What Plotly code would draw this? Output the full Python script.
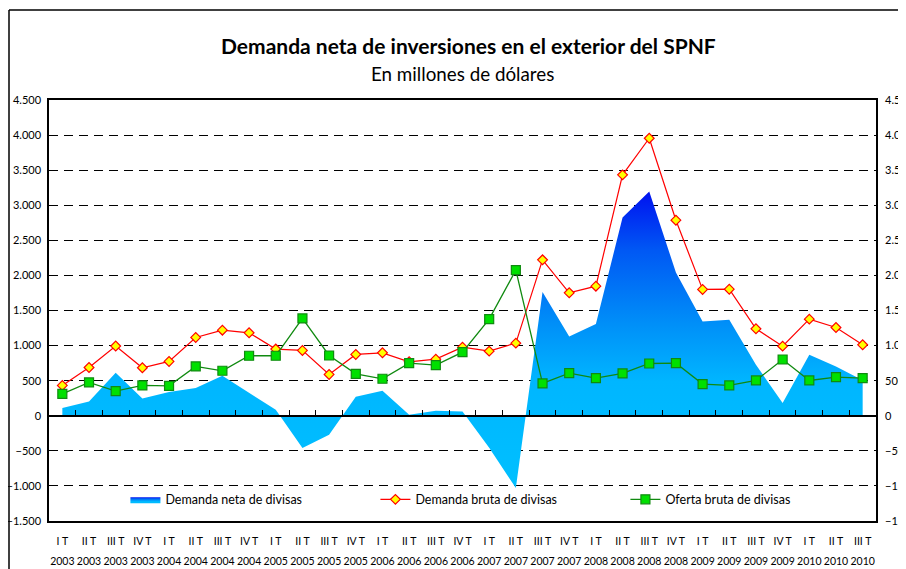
import plotly.graph_objects as go

quarters = ["I T", "II T", "III T", "IV T",
            "I T", "II T", "III T", "IV T",
            "I T", "II T", "III T", "IV T",
            "I T", "II T", "III T", "IV T",
            "I T", "II T", "III T", "IV T",
            "I T", "II T", "III T", "IV T",
            "I T", "II T", "III T", "IV T",
            "I T", "II T", "III T"]
years = ["2003"] * 4 + ["2004"] * 4 + ["2005"] * 4 + ["2006"] * 4 + \
        ["2007"] * 4 + ["2008"] * 4 + ["2009"] * 4 + ["2010"] * 3

demanda_neta = [109, 204, 612, 247, 340, 394, 570, 327, 85, -460,
                -271, 271, 356, 14, 71, 62, -456, -1030, 1762, 1130,
                1306, 2825, 3195, 2041, 1344, 1368, 726, 181, 869, 703, 505]
demanda_bruta = [432, 688, 993, 684, 774, 1116, 1220, 1182, 950, 931,
                 589, 874, 897, 769, 807, 978, 921, 1035, 2222, 1752,
                 1847, 3433, 3955, 2787, 1800, 1804, 1239, 992, 1377, 1258, 1011]
oferta_bruta = [313, 475, 351, 432, 427, 703, 641, 855, 855, 1387,
                859, 598, 527, 750, 721, 907, 1377, 2075, 460, 608,
                537, 603, 745, 750, 451, 432, 503, 802, 503, 551, 537]

y_ticks = list(range(-1500, 4501, 500))

cats = [f"{q} {y}" for q, y in zip(quarters, years)]
ticktext = [f"<span style='font-size:10.5px'>{q}</span><br><span style='font-size:10.5px'>{y}</span>"
            for q, y in zip(quarters, years)]

FONT = "Lato, 'Open Sans', sans-serif"

fig = go.Figure()

fig.add_trace(go.Scatter(
    x=cats, y=demanda_neta, name="Demanda neta de divisas",
    mode="lines", line=dict(width=0, color="#00B8FF"),
    fill="tozeroy",
    fillgradient=dict(type="vertical",
                      colorscale=[[0, "#00C0FF"], [0.36, "#00B6FF"],
                                  [0.55, "#0090F8"], [0.8, "#0058F4"], [1, "#0010F0"]],
                      start=-1050, stop=3210),
    hoverinfo="skip",
))
fig.add_trace(go.Scatter(
    x=cats, y=demanda_bruta, name="Demanda bruta de divisas",
    mode="lines+markers", line=dict(color="#FF0000", width=1.2),
    marker=dict(symbol="diamond", size=7.5, color="#FFFF00",
                line=dict(color="#FF0000", width=1.2)),
))
fig.add_trace(go.Scatter(
    x=cats, y=oferta_bruta, name="Oferta bruta de divisas",
    mode="lines+markers", line=dict(color="#108A10", width=1.3),
    marker=dict(symbol="square", size=9, color="#00E000",
                line=dict(color="#108A10", width=1.2)),
))
# invisible trace to create right axis
fig.add_trace(go.Scatter(x=cats, y=demanda_bruta, yaxis="y2", mode="none",
                         showlegend=False, hoverinfo="skip"))
# invisible trace for the zero-line category axis
fig.add_trace(go.Scatter(x=cats, y=[None] * len(cats), xaxis="x2", mode="none",
                         showlegend=False, hoverinfo="skip"))

fig.update_layout(
    template="none",
    width=906, height=569,
    margin=dict(l=41, r=38, t=92, b=56, autoexpand=False),
    paper_bgcolor="white", plot_bgcolor="white",
    font=dict(family=FONT, size=11, color="black"),
    separators=",.",
    showlegend=True,
    hovermode=False,
    legend=dict(orientation="h", x=0.0924, y=0.0505, xanchor="left", yanchor="middle",
                font=dict(size=12.5), entrywidth=205, entrywidthmode="pixels",
                bgcolor="rgba(0,0,0,0)", traceorder="normal"),
    xaxis=dict(
        type="category", categoryorder="array", categoryarray=cats,
        tickvals=cats, ticktext=ticktext, tickangle=0, automargin=False,
        tickfont=dict(size=15.4, family=FONT), ticklabelstandoff=4,
        showgrid=False, showline=True, linecolor="black", linewidth=1.5,
        mirror=True, ticks="", range=[-0.5, 30.5], zeroline=False,
    ),
    xaxis2=dict(
        type="category", categoryorder="array", categoryarray=cats,
        overlaying="x", anchor="free", position=0.25, side="bottom",
        showline=True, linecolor="black", linewidth=1.5, automargin=False,
        ticks="inside", ticklen=5, tickcolor="black", tickwidth=1,
        tickson="boundaries", showticklabels=False, showgrid=False,
        range=[-0.5, 30.5], zeroline=False,
    ),
    yaxis=dict(
        range=[-1500, 4500], tickvals=y_ticks, separatethousands=True,
        showgrid=True, gridcolor="black", gridwidth=1, griddash="9px,6px",
        zeroline=False, showline=True, linecolor="black", linewidth=1.5,
        mirror=True, ticks="", ticklabelstandoff=4, automargin=False,
        tickfont=dict(size=11),
    ),
    yaxis2=dict(
        range=[-1500, 4500], tickvals=y_ticks, separatethousands=True,
        overlaying="y", side="right", showgrid=False, zeroline=False,
        showline=False, ticks="", ticklabelstandoff=8, automargin=False,
        tickfont=dict(size=11),
    ),
    annotations=[
        dict(text="<b>Demanda neta de inversiones en el exterior del SPNF</b>",
             xref="paper", yref="paper", x=0.5 + 6 / 827, y=1 + (100 - 45) / 421,
             xanchor="center", yanchor="middle", showarrow=False,
             font=dict(size=21, family=FONT)),
        dict(text="En millones de dólares",
             xref="paper", yref="paper", x=0.5, y=1 + (100 - 73) / 421,
             xanchor="center", yanchor="middle", showarrow=False,
             font=dict(size=18.8, family=FONT)),
    ],
    shapes=[
        dict(type="line", xref="paper", yref="paper",
             x0=(9 - 49) / 827, x1=(9 - 49) / 827,
             y0=1 + (100 - 10) / 421, y1=-0.2,
             line=dict(color="black", width=1.5)),
        dict(type="line", xref="paper", yref="paper",
             x0=(9 - 49) / 827, x1=1.1,
             y0=1 + (100 - 10) / 421, y1=1 + (100 - 10) / 421,
             line=dict(color="black", width=1.5)),
    ],
)

fig.write_html("out.html")
